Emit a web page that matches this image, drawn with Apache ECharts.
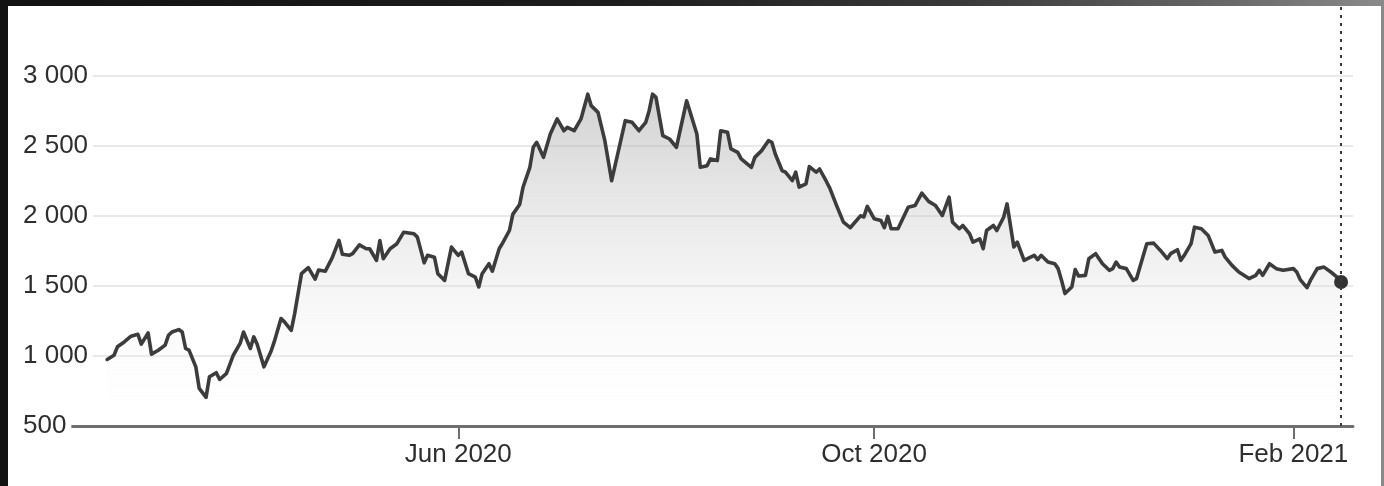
<!DOCTYPE html>
<html>
<head>
<meta charset="utf-8">
<script src="https://cdn.jsdelivr.net/npm/echarts@6/dist/echarts.min.js"></script>
<style>
  html, body { margin: 0; padding: 0; width: 1384px; height: 486px; overflow: hidden; }
  body { background: linear-gradient(to right, #121212 0%, #1d1d1d 45%, #3a3a3a 70%, #6c6c6c 90%, #8a8a8a 100%); position: relative; }
  #panel { position: absolute; left: 8px; top: 6px; width: 1373px; height: 480px; background: #ffffff; }
  #chart { position: absolute; left: 0; top: 0; width: 1384px; height: 486px; }
</style>
</head>
<body>
<div id="panel"></div>
<div id="chart"></div>
<script>
// Days counted from 2020-06-01 (negative = before)
const daysFromJun1 = [
  -103,-101,-100,-98,-96,-94,-93,-91,-90,-88,
  -86,-85,-84,-82,-81,-80,-79,-77,-76,-74,
  -73,-71,-70,-68,-66,-64,-63,-61,-60,-59,
  -57,-55,-54,-52,-51,-49,-48,-46,-44,-42,
  -41,-39,-37,-35,-34,-32,-31,-29,-27,-26,
  -24,-23,-22,-20,-18,-16,-13,-12,-10,-9,
  -7,-6,-4,-3,-2,0,1,3,5,6,
  7,9,10,12,13,15,16,18,19,21,
  22,23,25,27,29,31,32,34,36,38,
  39,41,43,45,47,49,51,53,55,56,
  57,58,60,62,64,67,70,71,73,74,
  76,77,79,80,82,83,86,87,89,91,
  92,93,95,96,98,99,100,102,103,105,
  106,108,109,111,113,115,116,118,119,120,
  122,124,125,126,127,129,132,134,136,138,
  140,142,144,145,147,148,150,151,153,154,
  155,157,158,160,161,163,164,166,167,169,
  170,171,173,175,176,177,178,180,181,182,
  184,185,187,189,191,192,193,194,196,198,
  199,201,202,204,206,208,209,211,212,213,
  215,216,218,220,222,224,225,227,229,232,
  234,235,236,238,240,242,245,246,247,249,
  250,252,254,256,258,259
];
const prices = [
  975,1005,1065,1100,1141,1155,1084,1164,1013,1041,
  1077,1148,1171,1188,1171,1053,1041,922,768,704,
  851,880,832,875,1005,1089,1171,1053,1136,1084,
  922,1029,1100,1267,1243,1183,1302,1587,1630,1548,
  1613,1605,1700,1824,1725,1718,1730,1792,1765,1765,
  1682,1824,1694,1765,1801,1883,1872,1848,1664,1718,
  1705,1587,1539,1658,1777,1718,1741,1587,1563,1492,
  1587,1658,1605,1765,1805,1895,2010,2080,2204,2346,
  2489,2524,2417,2584,2691,2607,2631,2607,2691,2868,
  2786,2738,2536,2251,2465,2679,2667,2607,2667,2750,
  2868,2845,2572,2548,2489,2821,2584,2346,2358,2406,
  2394,2607,2596,2477,2453,2406,2346,2417,2465,2536,
  2524,2441,2323,2311,2251,2311,2204,2228,2351,2311,
  2334,2245,2198,2073,1955,1915,1943,2000,1992,2067,
  1979,1967,1915,1996,1908,1908,2061,2073,2162,2103,
  2073,2002,2133,1955,1908,1931,1872,1812,1836,1765,
  1895,1931,1895,1990,2085,1777,1812,1682,1694,1718,
  1687,1718,1670,1658,1623,1539,1445,1492,1617,1570,
  1575,1694,1730,1658,1611,1623,1670,1634,1623,1539,
  1552,1718,1801,1805,1753,1694,1730,1758,1682,1718,
  1801,1919,1908,1860,1741,1753,1705,1646,1599,1552,
  1575,1611,1575,1658,1623,1611,1623,1599,1545,1487,
  1539,1623,1634,1599,1559,1528
];
const xTickDates = ['2020-06-01', '2020-10-01', '2021-02-01'];
const xTickLabels = ['Jun 2020', 'Oct 2020', 'Feb 2021'];
const xAxisStart = '2020-02-07';
const xAxisEnd = '2021-02-18';
const yMin = 500, yMax = 3490, yStep = 500;

function ts(str) { const p = str.split('-').map(Number); return new Date(p[0], p[1] - 1, p[2]).getTime(); }
const base = new Date(2020, 5, 1);
const points = daysFromJun1.map((d, i) => {
  const t = new Date(base.getFullYear(), base.getMonth(), base.getDate() + d).getTime();
  return [t, prices[i]];
});
const seriesData = points.map((p, i) => i === points.length - 1
  ? { value: p, symbol: 'circle', symbolSize: 14, itemStyle: { color: '#333' } }
  : { value: p });
const lastT = points[points.length - 1][0];
const tickTs = xTickDates.map(ts);

function fmtNum(v) { return String(v).replace(/\B(?=(\d{3})+(?!\d))/g, ' '); }

const chart = echarts.init(document.getElementById('chart'), null, { renderer: 'canvas' });
const font = 'Liberation Sans, Arial, sans-serif';
const nTicks = Math.floor((yMax - yMin) / yStep) + 2;
const splitColors = [];
for (let i = 0; i < nTicks; i++) splitColors.push(i < nTicks - 1 ? '#e9e9e9' : 'rgba(0,0,0,0)');

chart.setOption({
  animation: false,
  backgroundColor: 'transparent',
  grid: { left: 68, right: 31, top: 7, bottom: 60, containLabel: false, outerBoundsMode: 'none' },
  xAxis: {
    type: 'value',
    min: ts(xAxisStart) + 12 * 3600 * 1000,
    max: ts(xAxisEnd) + 12 * 3600 * 1000,
    axisLine: { show: true, lineStyle: { color: '#6e6e6e', width: 3 } },
    axisTick: { show: true, customValues: tickTs, length: 13, lineStyle: { color: '#6e6e6e', width: 2 } },
    axisLabel: {
      customValues: tickTs,
      fontSize: 26, fontFamily: font, color: '#2e2e2e', margin: 16,
      formatter: function (v) { const i = tickTs.indexOf(v); return i >= 0 ? xTickLabels[i] : ''; }
    },
    splitLine: { show: false }
  },
  yAxis: {
    type: 'value',
    min: yMin, max: yMax, interval: yStep,
    axisLine: { show: false },
    axisTick: { show: false },
    axisLabel: {
      align: 'left', margin: 45, fontSize: 26, fontFamily: font, color: '#2e2e2e',
      backgroundColor: '#ffffff', padding: [0, 5, 0, 0],
      formatter: function (v) { return v % yStep === 0 ? fmtNum(v) : ''; }
    },
    splitLine: { show: true, lineStyle: { color: splitColors, width: 2 } }
  },
  series: [{
    type: 'line',
    data: seriesData,
    symbol: 'none',
    showSymbol: true,
    lineStyle: { color: '#3c3c3c', width: 3.6, join: 'round', cap: 'round' },
    itemStyle: { color: '#3c3c3c' },
    areaStyle: {
      color: new echarts.graphic.LinearGradient(0, 0, 0, 1, [
        { offset: 0, color: 'rgba(165,165,165,0.72)' },
        { offset: 0.5, color: 'rgba(215,215,215,0.5)' },
        { offset: 0.8, color: 'rgba(245,245,245,0.3)' },
        { offset: 1, color: 'rgba(255,255,255,0)' }
      ])
    },
    markLine: {
      silent: true,
      symbol: ['none', 'none'],
      label: { show: false },
      lineStyle: { color: '#3a3a3a', width: 2, type: [3, 5] },
      data: [{ xAxis: lastT }]
    },
    z: 3
  }]
});
</script>
</body>
</html>
